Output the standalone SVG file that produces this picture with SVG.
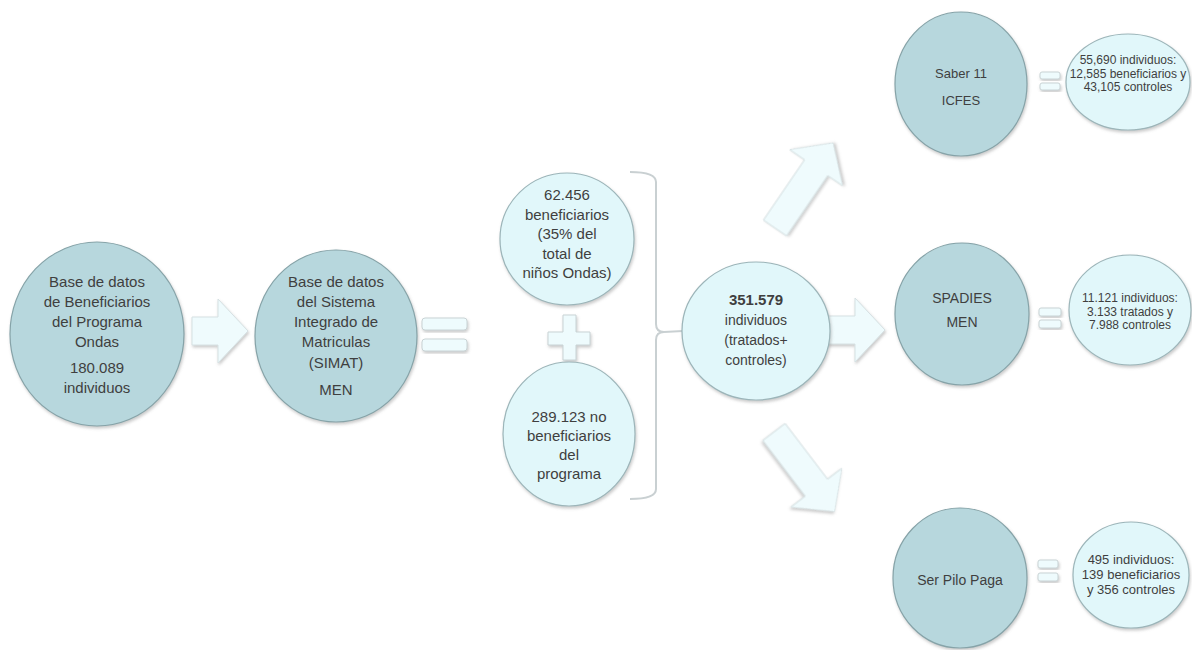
<svg xmlns="http://www.w3.org/2000/svg" width="1192" height="650" viewBox="0 0 1192 650">
  <defs>
    <filter id="sh" x="-20%" y="-20%" width="140%" height="140%">
      <feDropShadow dx="1" dy="2" stdDeviation="1.5" flood-color="#8a8a8a" flood-opacity="0.45"/>
    </filter>
  </defs>
  <style>
    .dark { fill: #b7d7dd; stroke: #86a3a8; stroke-width: 1.2; filter: url(#sh); }
    .light { fill: #e1f7fa; stroke: #9cb5b9; stroke-width: 1.2; filter: url(#sh); }
    .arrow { fill: #effbfd; stroke: #d6e1e3; stroke-width: 1; filter: url(#sh); }
    .bar { fill: #eefbfd; stroke: #c9d3d5; stroke-width: 1; filter: url(#sh); }
    .brace { fill: none; stroke: #c9d0d2; stroke-width: 2; }
    text { font-family: "Liberation Sans", Arial, sans-serif; fill: #3f3f3f; text-anchor: middle; }
    .t15 { font-size: 15px; }
    .t14 { font-size: 14px; }
    .t13 { font-size: 13px; }
    .t12 { font-size: 12px; }
    .b { font-weight: bold; }
  </style>

  <g id="connectors">
    <path class="arrow" transform="translate(192,331)" d="M0,-14 L26,-14 L26,-32 L56,0 L26,32 L26,14 L0,14 Z"/>
    <rect class="bar" x="422" y="318" width="45" height="12" rx="3"/>
    <rect class="bar" x="422" y="339" width="45" height="12" rx="3"/>
    <path class="bar" d="M563,315 L576,315 L576,332 L590,332 L590,345 L576,345 L576,360 L563,360 L563,345 L548,345 L548,332 L563,332 Z"/>
    <path class="brace" d="M630,172 Q656,172 656,182 L656,324 Q656,332 664,332 Q656,332 656,340 L656,489 Q656,499 630,499"/>
    <path class="brace" d="M664,332 L683,331"/>
    <path class="arrow" transform="translate(775,228) rotate(-55.7)" d="M0,-14 L73,-14 L73,-32 L103,0 L73,32 L73,14 L0,14 Z"/>
    <path class="arrow" transform="translate(827,330)" d="M0,-14 L28,-14 L28,-32 L58,0 L28,32 L28,14 L0,14 Z"/>
    <path class="arrow" transform="translate(774,432) rotate(52.7)" d="M0,-14 L70,-14 L70,-32 L100,0 L70,32 L70,14 L0,14 Z"/>
    <rect class="bar" x="1040" y="72" width="20" height="7" rx="2"/>
    <rect class="bar" x="1040" y="83" width="20" height="7" rx="2"/>
    <rect class="bar" x="1039" y="308" width="22" height="8" rx="2"/>
    <rect class="bar" x="1039" y="320" width="22" height="8" rx="2"/>
    <rect class="bar" x="1038" y="560" width="20" height="8" rx="2"/>
    <rect class="bar" x="1038" y="573" width="20" height="8" rx="2"/>
  </g>

  <g id="n-ondas">
    <ellipse class="dark" cx="97" cy="334" rx="87" ry="92"/>
    <text class="t15" x="97" y="287">Base de datos</text>
    <text class="t15" x="97" y="307">de Beneficiarios</text>
    <text class="t15" x="97" y="327">del Programa</text>
    <text class="t15" x="97" y="347">Ondas</text>
    <text class="t15" x="97" y="373">180.089</text>
    <text class="t15" x="97" y="393">individuos</text>
  </g>

  <g id="n-simat">
    <ellipse class="dark" cx="336" cy="336" rx="81" ry="86"/>
    <text class="t15" x="336" y="287">Base de datos</text>
    <text class="t15" x="336" y="307">del Sistema</text>
    <text class="t15" x="336" y="327">Integrado de</text>
    <text class="t15" x="336" y="347">Matriculas</text>
    <text class="t15" x="336" y="368">(SIMAT)</text>
    <text class="t15" x="336" y="395">MEN</text>
  </g>

  <g id="n-benef">
    <ellipse class="light" cx="567" cy="239" rx="67" ry="66"/>
    <text class="t15" x="567" y="200">62.456</text>
    <text class="t15" x="567" y="219.5">beneficiarios</text>
    <text class="t15" x="567" y="239">(35% del</text>
    <text class="t15" x="567" y="258.5">total de</text>
    <text class="t15" x="567" y="278">niños Ondas)</text>
  </g>

  <g id="n-nobenef">
    <ellipse class="light" cx="569" cy="434" rx="66" ry="72"/>
    <text class="t15" x="569" y="422">289.123 no</text>
    <text class="t15" x="569" y="441">beneficiarios</text>
    <text class="t15" x="569" y="460">del</text>
    <text class="t15" x="569" y="479">programa</text>
  </g>

  <g id="n-total">
    <ellipse class="light" cx="756" cy="331" rx="74" ry="69"/>
    <text class="t15 b" x="756" y="305">351.579</text>
    <text class="t14" x="756" y="325">individuos</text>
    <text class="t14" x="756" y="345">(tratados+</text>
    <text class="t14" x="756" y="365">controles)</text>
  </g>

  <g id="n-saber">
    <ellipse class="dark" cx="961" cy="84" rx="66" ry="72"/>
    <text class="t13" x="961" y="78">Saber 11</text>
    <text class="t13" x="961" y="105">ICFES</text>
  </g>

  <g id="n-saber-res">
    <ellipse class="light" cx="1128" cy="82" rx="62" ry="48"/>
    <text class="t12" x="1128" y="64">55,690 individuos:</text>
    <text class="t12" x="1128" y="77.5">12,585 beneficiarios y</text>
    <text class="t12" x="1128" y="91">43,105 controles</text>
  </g>

  <g id="n-spadies">
    <ellipse class="dark" cx="962" cy="314" rx="67" ry="71"/>
    <text class="t14" x="962" y="303">SPADIES</text>
    <text class="t14" x="962" y="327">MEN</text>
  </g>

  <g id="n-spadies-res">
    <ellipse class="light" cx="1130" cy="310" rx="61" ry="55"/>
    <text class="t12" x="1130" y="302">11.121 individuos:</text>
    <text class="t12" x="1130" y="315.5">3.133 tratados y</text>
    <text class="t12" x="1130" y="329">7.988 controles</text>
  </g>

  <g id="n-spp">
    <ellipse class="dark" cx="960" cy="578" rx="67" ry="70"/>
    <text class="t14" x="960" y="585">Ser Pilo Paga</text>
  </g>

  <g id="n-spp-res">
    <ellipse class="light" cx="1131" cy="575" rx="58" ry="53"/>
    <text class="t13" x="1131" y="564">495 individuos:</text>
    <text class="t13" x="1131" y="579">139 beneficiarios</text>
    <text class="t13" x="1131" y="594">y 356 controles</text>
  </g>
</svg>
